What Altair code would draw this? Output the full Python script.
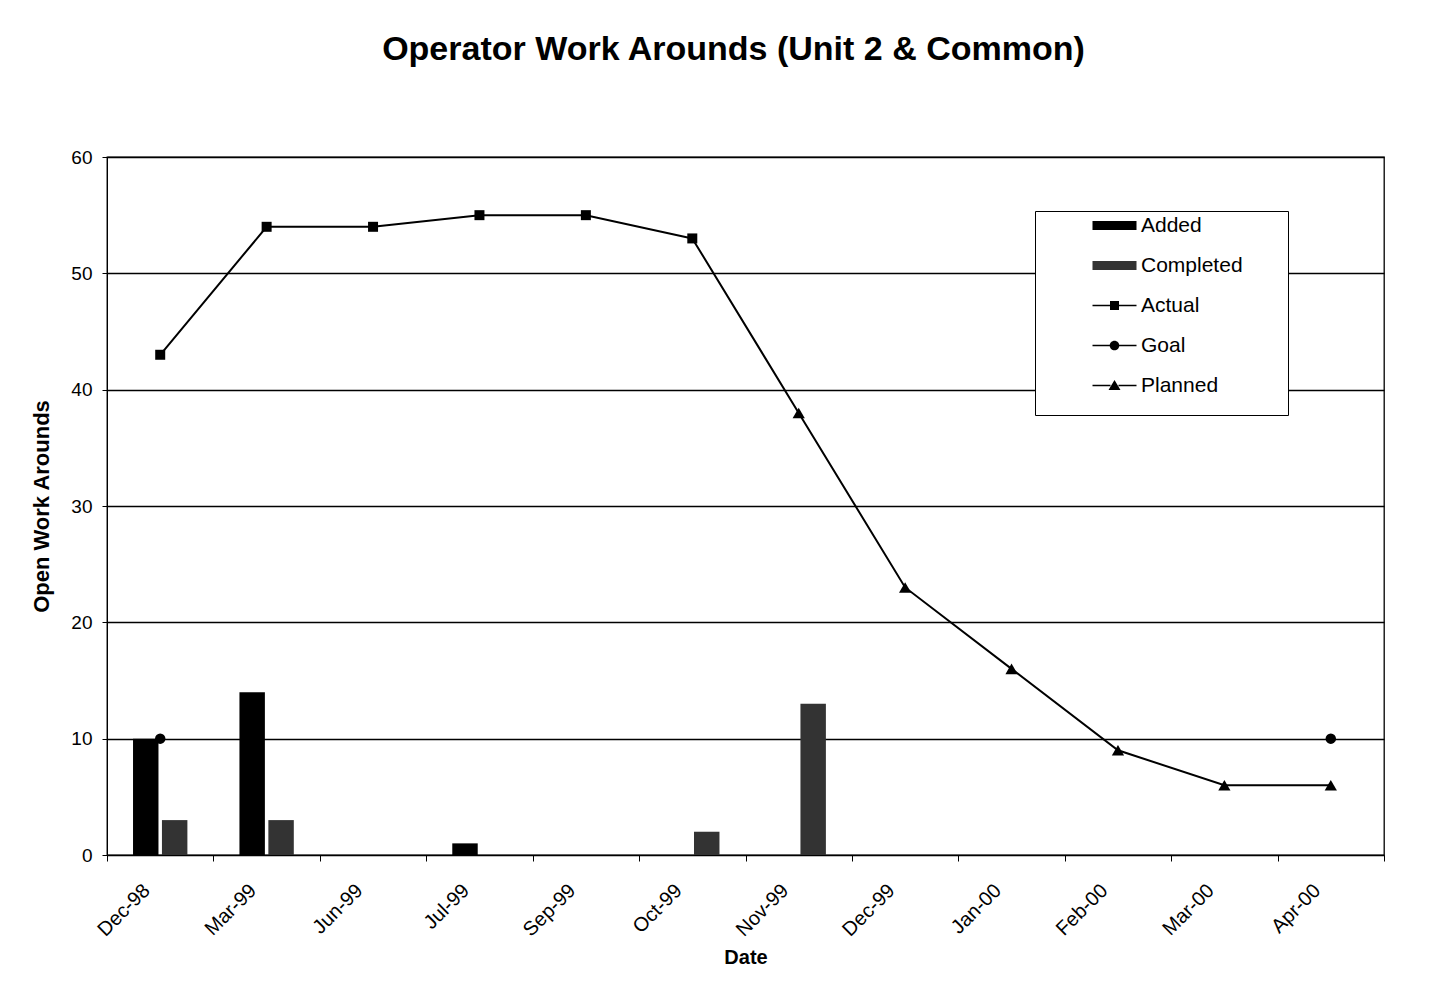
import altair as alt
import pandas as pd

categories = ["Dec-98", "Mar-99", "Jun-99", "Jul-99", "Sep-99", "Oct-99",
              "Nov-99", "Dec-99", "Jan-00", "Feb-00", "Mar-00", "Apr-00"]
added = [10, 14, None, 1, None, None, None, None, None, None, None, None]
completed = [3, 3, None, None, None, 2, 13, None, None, None, None, None]
actual = [43, 54, 54, 55, 55, 53, None, None, None, None, None, None]
goal = [10, None, None, None, None, None, None, None, None, None, None, 10]
planned = [None, None, None, None, None, 53, 38, 23, 16, 9, 6, 6]

legend_names = ["Added", "Completed", "Actual", "Goal", "Planned"]
legend_colors = ["#000000", "#333333", "#000000", "#000000", "#000000"]

FONT = "Liberation Sans"

# ---- tables -------------------------------------------------------------
bar_rows = []
for c, a, d in zip(categories, added, completed):
    if a is not None:
        bar_rows.append({"date": c, "series": "Added", "value": a})
    if d is not None:
        bar_rows.append({"date": c, "series": "Completed", "value": d})
bars_df = pd.DataFrame(bar_rows)

line_rows = []
for c, v in zip(categories, actual):
    if v is not None:
        line_rows.append({"date": c, "series": "Actual", "value": v})
for c, v in zip(categories, planned):
    if v is not None:
        line_rows.append({"date": c, "series": "Planned", "value": v})
lines_df = pd.DataFrame(line_rows)

actual_df = lines_df[lines_df.series == "Actual"]
planned_pts = pd.DataFrame([{"date": c, "value": p} for c, p, a in zip(categories, planned, actual)
                            if p is not None and a is None])
goal_df = pd.DataFrame([{"date": c, "value": g} for c, g in zip(categories, goal) if g is not None])
legend_df = pd.DataFrame({"name": legend_names})

# ---- legend symbol paths (unit = 10px, symbol drawn to the right of entry origin)
X0 = 4.3    # left start of symbol in units from symbol centre
XR = 23.4   # invisible move-to that widens the legend frame


def rect(x1, y1, x2, y2):
    return f"M{x1:.3f},{y1:.3f} L{x2:.3f},{y1:.3f} L{x2:.3f},{y2:.3f} L{x1:.3f},{y2:.3f} Z "


W = 4.4
spacer = f"M{XR:.3f},0"
bar_path = rect(X0, -0.45, X0 + W, 0.45) + spacer
cx = X0 + W / 2
line_l = rect(X0, -0.07, cx - 0.4, 0.07)
line_r = rect(cx + 0.4, -0.07, X0 + W, 0.07)
sq_path = line_l + line_r + rect(cx - 0.45, -0.45, cx + 0.45, 0.45) + spacer
r = 0.48
circ_path = (line_l + line_r +
             f"M{cx + r:.3f},0 A{r},{r} 0 0 1 {cx - r:.3f},0 A{r},{r} 0 0 1 {cx + r:.3f},0 Z "
             + spacer)
tri_path = (line_l + line_r +
            f"M{cx:.3f},-0.55 L{cx + 0.6:.3f},0.45 L{cx - 0.6:.3f},0.45 Z " + spacer)
legend_shapes = [bar_path, bar_path, sq_path, circ_path, tri_path]

# ---- scales / axes ------------------------------------------------------
x_scale = alt.Scale(domain=categories, paddingInner=0, paddingOuter=0)
y_scale = alt.Scale(domain=[0, 60], nice=False)

x_enc = alt.X("date:N", scale=x_scale, sort=categories,
              axis=alt.Axis(title="Date", labelAngle=-45, tickBand="extent",
                            tickSize=6, tickColor="#000", domainColor="#000",
                            labelFont=FONT, labelFontSize=20, labelColor="#000",
                            labelPadding=19, labelOffset=-21,
                            titleFont=FONT, titleFontSize=20, titleFontWeight="bold",
                            titleColor="#000", titlePadding=8))
y_enc = alt.Y("value:Q", scale=y_scale,
              axis=alt.Axis(title="Open Work Arounds", values=[0, 10, 20, 30, 40, 50, 60],
                            grid=True, gridColor="#000", gridWidth=1.3,
                            tickSize=5, tickColor="#000", domainColor="#000",
                            labelFont=FONT, labelFontSize=19, labelColor="#000",
                            labelPadding=10,
                            titleFont=FONT, titleFontSize=22, titleFontWeight="bold",
                            titleColor="#000", titlePadding=17))

bars = alt.Chart(bars_df).mark_bar(opacity=1).encode(
    x=x_enc,
    xOffset=alt.XOffset("series:N", scale=alt.Scale(domain=["Added", "Completed"],
                                                    paddingInner=0.12, paddingOuter=0.9)),
    y=y_enc,
    fill=alt.Fill("series:N", scale=alt.Scale(domain=["Added", "Completed"],
                                              range=["#000000", "#333333"]), legend=None),
)

lines = alt.Chart(lines_df).mark_line(color="#000", strokeWidth=2).encode(
    x=alt.X("date:N", sort=categories), y=alt.Y("value:Q"), detail="series:N")

actual_pts = alt.Chart(actual_df).mark_point(
    shape="square", filled=True, size=100, color="#000", opacity=1).encode(
    x=alt.X("date:N", sort=categories), y="value:Q")
planned_marks = alt.Chart(planned_pts).mark_point(
    shape="triangle-up", filled=True, size=150, color="#000", opacity=1).encode(
    x=alt.X("date:N", sort=categories), y="value:Q")
goal_marks = alt.Chart(goal_df).mark_point(
    shape="circle", filled=True, size=110, color="#000", opacity=1).encode(
    x=alt.X("date:N", sort=categories), y="value:Q")

NB = "\u00a0"
leg = alt.Legend(title=NB, titleOrient="bottom", titleFontSize=8, titlePadding=7,
                 orient="none", legendX=928, legendY=54,
                 symbolSize=400, symbolStrokeWidth=0, labelOffset=81,
                 labelFont=FONT, labelFontSize=21, labelColor="#000",
                 rowPadding=18, padding=4, strokeColor="#000", fillColor="#fff",
                 labelLimit=400)

legend_layer = alt.Chart(legend_df).mark_point(filled=True, opacity=1, clip=True).encode(
    x=alt.value(-2000), y=alt.value(-2000),
    shape=alt.Shape("name:N", scale=alt.Scale(domain=legend_names, range=legend_shapes), legend=leg),
    color=alt.Color("name:N", scale=alt.Scale(domain=legend_names, range=legend_colors), legend=leg),
)

chart = alt.layer(bars, lines, actual_pts, planned_marks, goal_marks, legend_layer).properties(
    width=1277, height=698,
    title=alt.Title("Operator Work Arounds (Unit 2 & Common)", font=FONT, fontSize=34,
                    fontWeight="bold", color="#000", anchor="middle", baseline="bottom",
                    offset=47, dx=-12),
    autosize=alt.AutoSizeParams(type="none"),
    padding={"left": 99, "top": 149, "right": 40, "bottom": 120},
    background="#ffffff",
).configure_view(stroke="#000", strokeWidth=1.3)

chart.save("out.html", embed_options={"renderer": "svg", "actions": False})
